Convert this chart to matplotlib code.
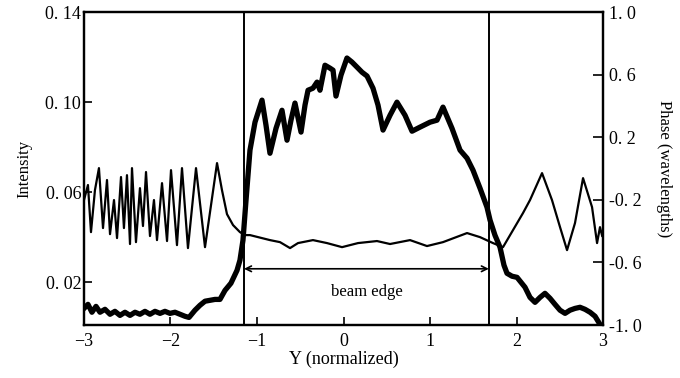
import matplotlib
matplotlib.use("Agg")
import matplotlib.pyplot as plt

# ---- data ----
int_y = [-3.000, -2.954, -2.908, -2.861, -2.815, -2.757, -2.699, -2.642, -2.584, -2.526,
         -2.468, -2.410, -2.353, -2.295, -2.237, -2.179, -2.121, -2.064, -2.006, -1.948,
         -1.890, -1.832, -1.786, -1.717, -1.659, -1.601, -1.543, -1.486, -1.428, -1.370,
         -1.301, -1.231, -1.197, -1.162, -1.127, -1.081, -1.023, -0.942, -0.896, -0.850,
         -0.780, -0.711, -0.653, -0.607, -0.561, -0.491, -0.445, -0.410, -0.353, -0.306,
         -0.272, -0.214, -0.156, -0.121, -0.087, -0.029, 0.040, 0.098, 0.168, 0.214,
         0.272, 0.341, 0.399, 0.457, 0.538, 0.618, 0.711, 0.792, 0.884, 1.000,
         1.081, 1.150, 1.254, 1.347, 1.428, 1.497, 1.578, 1.659, 1.694, 1.751,
         1.809, 1.855, 1.890, 1.948, 2.006, 2.098, 2.156, 2.214, 2.272, 2.329,
         2.387, 2.445, 2.503, 2.561, 2.618, 2.676, 2.734, 2.792, 2.850, 2.908, 2.965]
intensity = [0.0084, 0.0102, 0.0067, 0.0093, 0.0067, 0.0080, 0.0058, 0.0071, 0.0053, 0.0067,
             0.0053, 0.0067, 0.0058, 0.0071, 0.0058, 0.0071, 0.0062, 0.0071, 0.0062, 0.0067,
             0.0058, 0.0049, 0.0044, 0.0076, 0.0098, 0.0116, 0.0120, 0.0124, 0.0124, 0.0164,
             0.0196, 0.0253, 0.0298, 0.0387, 0.0564, 0.0787, 0.0911, 0.1009, 0.0898, 0.0773,
             0.0884, 0.0964, 0.0831, 0.0920, 0.0996, 0.0867, 0.0987, 0.1053, 0.1062, 0.1089,
             0.1053, 0.1164, 0.1151, 0.1142, 0.1027, 0.1120, 0.1196, 0.1178, 0.1151, 0.1133,
             0.1116, 0.1062, 0.0987, 0.0876, 0.0942, 0.1000, 0.0942, 0.0871, 0.0889, 0.0911,
             0.0920, 0.0978, 0.0884, 0.0787, 0.0751, 0.0698, 0.0618, 0.0533, 0.0476, 0.0409,
             0.0356, 0.0276, 0.0240, 0.0227, 0.0222, 0.0178, 0.0133, 0.0111, 0.0133, 0.0151,
             0.0129, 0.0102, 0.0076, 0.0062, 0.0076, 0.0084, 0.0089, 0.0080, 0.0067, 0.0049, 0.0013]

ph_y = [-3.000, -2.954, -2.919, -2.873, -2.827, -2.780, -2.734, -2.699, -2.653, -2.618,
        -2.572, -2.538, -2.503, -2.468, -2.445, -2.399, -2.353, -2.318, -2.283, -2.237,
        -2.191, -2.156, -2.098, -2.040, -1.994, -1.925, -1.867, -1.798, -1.705, -1.601,
        -1.462, -1.405, -1.347, -1.277, -1.197, -1.139, -1.081, -0.850, -0.734, -0.618,
        -0.526, -0.353, -0.191, -0.017, 0.168, 0.387, 0.538, 0.769, 0.965, 1.150,
        1.428, 1.578, 1.728, 1.844, 2.075, 2.156, 2.295, 2.410, 2.503, 2.584,
        2.676, 2.769, 2.873, 2.931, 2.965, 2.990]
phase = [-0.201, -0.105, -0.406, -0.137, 0.003, -0.380, -0.073, -0.419, -0.201, -0.444,
         -0.054, -0.380, -0.042, -0.482, 0.003, -0.470, -0.125, -0.367, -0.022, -0.431,
         -0.201, -0.457, -0.093, -0.463, -0.010, -0.489, 0.003, -0.508, 0.003, -0.502,
         0.035, -0.137, -0.291, -0.361, -0.406, -0.425, -0.425, -0.457, -0.470, -0.508,
         -0.476, -0.457, -0.476, -0.502, -0.476, -0.463, -0.482, -0.457, -0.495, -0.470,
         -0.412, -0.438, -0.476, -0.502, -0.284, -0.201, -0.029, -0.201, -0.374, -0.521,
         -0.348, -0.061, -0.246, -0.476, -0.374, -0.430]

edge_left, edge_right = -1.15, 1.68
x_ticks = [-3, -2, -1, 0, 1, 2, 3]
x_labels = ["\u22123", "\u22122", "\u22121", "0", "1", "2", "3"]
int_ticks = [0.02, 0.06, 0.10, 0.14]
int_labels = ["0. 02", "0. 06", "0. 10", "0. 14"]
ph_ticks = [-1.0, -0.6, -0.2, 0.2, 0.6, 1.0]
ph_labels = ["-1. 0", "-0. 6", "-0. 2", "0. 2", "0. 6", "1. 0"]

plt.rcParams['font.family'] = ['Liberation Serif', 'DejaVu Serif']

fig = plt.figure(figsize=(6.8, 3.78), dpi=100)
ax = fig.add_axes([0.1235, 0.140, 0.7633, 0.828])
ax2 = ax.twinx()

ax.plot(int_y, intensity, color='black', lw=3.8, solid_joinstyle='round', zorder=3)
ax2.plot(ph_y, phase, color='black', lw=1.6, zorder=3)

ax.axvline(edge_left, color='black', lw=1.4)
ax.axvline(edge_right, color='black', lw=1.4)
ax.annotate('', xy=(edge_left, 0.026), xytext=(edge_right, 0.026),
            arrowprops=dict(arrowstyle='<->', color='black', lw=1.2,
                            shrinkA=0, shrinkB=0, mutation_scale=10))
ax.text((edge_left + edge_right) / 2, 0.0158, 'beam edge', ha='center', va='center',
        fontsize=12)

ax.set_xlim(-3, 3)
ax.set_ylim(0.001, 0.14)
ax2.set_ylim(-1.0, 1.0)

ax.set_xticks(x_ticks)
ax.set_xticklabels(x_labels, fontsize=13)
ax.set_yticks(int_ticks)
ax.set_yticklabels(int_labels, fontsize=13)
ax2.set_yticks(ph_ticks)
ax2.set_yticklabels(ph_labels, fontsize=13)

ax.tick_params(axis='x', direction='in', length=6, width=1.2, pad=6)
ax.tick_params(axis='y', direction='in', length=6, width=1.2, pad=2)
ax2.tick_params(axis='y', direction='in', length=7, width=1.2, pad=4)

for a in (ax, ax2):
    for s in a.spines.values():
        s.set_linewidth(1.6)

ax.set_xlabel('Y (normalized)', fontsize=13, labelpad=0)
ax.set_ylabel('Intensity', fontsize=12, labelpad=9)
ax2.set_ylabel('Phase (wavelengths)', fontsize=12, rotation=270, labelpad=22)

fig.savefig('out.png', dpi=100)
